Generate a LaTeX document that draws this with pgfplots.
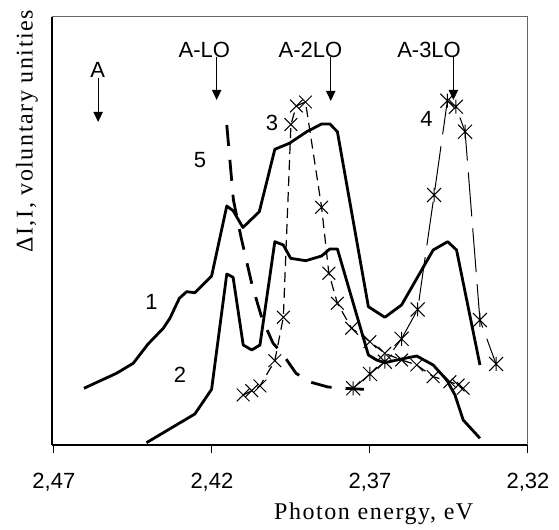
\documentclass[border=0pt]{standalone}
\usepackage{fontspec}
\setmainfont{Liberation Serif}
\newfontfamily\arial{Liberation Sans}
\newfontfamily\labelfont[LetterSpace=6.5]{Liberation Serif}
\usepackage{pgfplots}
\pgfplotsset{compat=1.18}
\usetikzlibrary{arrows.meta}

\pgfdeclareplotmark{xstar}{%
  \pgfpathmoveto{\pgfqpoint{-\pgfplotmarksize}{-\pgfplotmarksize}}%
  \pgfpathlineto{\pgfqpoint{\pgfplotmarksize}{\pgfplotmarksize}}%
  \pgfpathmoveto{\pgfqpoint{-\pgfplotmarksize}{\pgfplotmarksize}}%
  \pgfpathlineto{\pgfqpoint{\pgfplotmarksize}{-\pgfplotmarksize}}%
  \pgfpathmoveto{\pgfqpoint{0pt}{-\pgfplotmarksize}}%
  \pgfpathlineto{\pgfqpoint{0pt}{\pgfplotmarksize}}%
  \pgfusepathqstroke}

\pgfplotstableread{
x y
2.4605 56.7
2.4502 71.7
2.4449 81.7
2.4402 101
2.4354 116.7
2.4333 126.7
2.4303 146.7
2.4280 153.3
2.4254 152.3
2.4201 169
2.4153 239
2.4133 234.3
2.4102 217.5
2.4050 233.3
2.4001 295.7
2.3955 301.7
2.3900 313.3
2.3853 321
2.3827 321
2.3803 313.3
2.3705 138.3
2.3653 127.7
2.3600 140
2.3500 195
2.3454 203.3
2.3426 195
2.3352 80
}\curveone

\pgfplotstableread{
x y
2.4407 2.3
2.4254 31
2.4201 55.7
2.4153 171
2.4133 167.7
2.4101 100
2.4074 95
2.4048 100
2.4001 203.3
2.3974 200
2.3951 186.7
2.3903 184.3
2.3853 189
2.3827 196
2.3803 196
2.3705 90
2.3679 85
2.3653 82.3
2.3605 85.7
2.3552 89
2.3500 80
2.3457 65
2.3431 50
2.3405 25
2.3352 6.7
}\curvetwo

\pgfplotstableread{
x y
2.4101 50
2.4074 54.3
2.4048 59
2.4001 84.3
2.3974 127.7
2.3950 320.5
2.3933 339
2.3904 343
2.3853 237.7
2.3830 171.7
2.3803 141.7
2.3758 116.7
2.3700 103.3
2.3653 91.7
2.3600 85
2.3552 80
2.3500 68.3
2.3447 63.3
2.3421 60
2.3405 56.7
}\curvethree

\pgfplotstableread{
x y
2.3753 56.7
2.3700 71
2.3653 83.3
2.3600 106.2
2.3549 135.5
2.3497 250
2.3455 344.3
2.3428 338.3
2.3399 313.3
2.3352 125
2.3301 81
}\curvefour

\pgfplotstableread{
x y
2.4153 320
2.4132 245
2.4108 208
2.4073 160
2.4042 127
2.4007 102
2.3974 90
2.3934 71.7
2.3890 63
2.3833 58
2.3773 56.5
2.3719 55.7
}\curvefive

\begin{document}
\begin{tikzpicture}
\useasboundingbox (-26pt,-42.5pt) rectangle (253.5pt,222.5pt);
\begin{axis}[
  scale only axis, width=238pt, height=214pt,
  at={(0,0)}, anchor=south west,
  x dir=reverse, xmin=2.32, xmax=2.4706, ymin=0, ymax=428,
  axis x line*=bottom, axis y line*=left,
  axis line style={line width=0.6pt, -},
  xtick={2.32,2.37,2.42,2.47},
  xticklabels={{2,32},{2,37},{2,42},{2,47}},
  ytick=\empty,
  tick align=outside, major tick length=4pt,
  xtick style={black, line width=0.5pt},
  xticklabel style={font=\arial\fontsize{11}{13}\selectfont, anchor=base, yshift=-17.65pt},
  xlabel={Photon energy, eV},
  xlabel style={font=\labelfont\fontsize{12}{14}\selectfont, at={(axis description cs:0.676,-0.1752)}, anchor=base},
  ylabel={ΔI,I, voluntary unities},
  ylabel style={font=\labelfont\fontsize{12}{14}\selectfont, at={(axis description cs:-0.053,0.733)}, anchor=center},
  clip=false,
  every axis plot/.append style={line join=round},
]
\draw[black!60, line width=0.5pt] (rel axis cs:0,1) -- (rel axis cs:1,1) -- (rel axis cs:1,0);

\addplot[black, line width=1.4pt] table {\curveone};
\addplot[black, line width=1.4pt] table {\curvetwo};
\addplot[black, line width=0.6pt, dash pattern=on 5pt off 3pt, mark=x, mark size=4.5pt, mark options={solid, line width=0.5pt}] table {\curvethree};
\addplot[black, line width=0.5pt, dash pattern=on 22pt off 6pt, mark=xstar, mark size=3.5pt, mark options={solid, line width=0.5pt}] table {\curvefour};
\addplot[black, line width=1.4pt, dash pattern=on 10.5pt off 7pt] table {\curvefive};

\draw[line width=0.6pt, -{Triangle[length=5pt,width=4.6pt]}] (axis cs:2.4560,367) -- (axis cs:2.4560,323);
\draw[line width=0.6pt, -{Triangle[length=5pt,width=4.6pt]}] (axis cs:2.4185,388) -- (axis cs:2.4185,345);
\draw[line width=0.6pt, -{Triangle[length=5pt,width=4.6pt]}] (axis cs:2.3824,388) -- (axis cs:2.3824,344);
\draw[line width=0.6pt, -{Triangle[length=5pt,width=4.6pt]}] (axis cs:2.3436,388) -- (axis cs:2.3436,345);

\begin{scope}[every node/.style={font=\arial\fontsize{11}{13}\selectfont, inner sep=0pt}]
\node at (axis cs:2.4561,375) {A};
\node at (axis cs:2.4224,395) {A-LO};
\node at (axis cs:2.3888,395) {A-2LO};
\node at (axis cs:2.3513,395) {A-3LO};
\node at (axis cs:2.4391,143.3) {1};
\node at (axis cs:2.4301,70) {2};
\node at (axis cs:2.4010,322) {3};
\node at (axis cs:2.3521,326) {4};
\node at (axis cs:2.4238,285) {5};
\end{scope}
\end{axis}
\end{tikzpicture}
\end{document}
